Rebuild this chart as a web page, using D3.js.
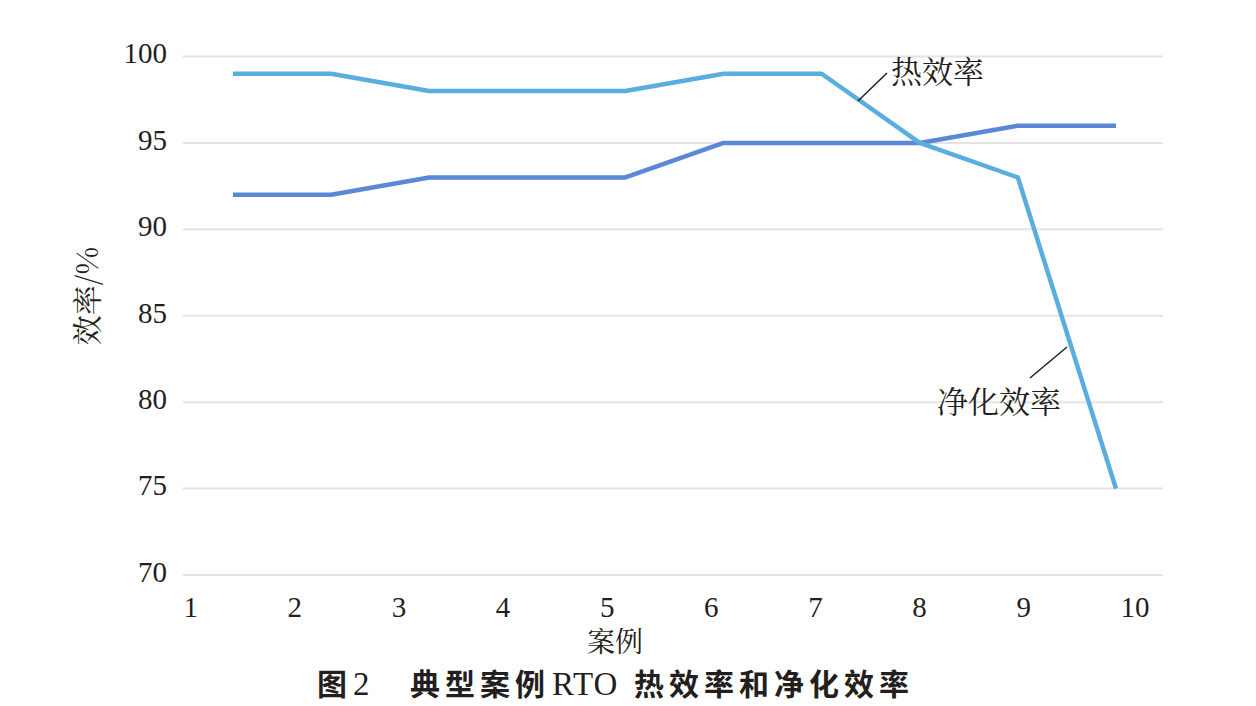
<!DOCTYPE html>
<html>

<head>
    <title>典型案例RTO热效率和净化效率</title>
    <meta http-equiv="Content-Type" content="text/html;charset=utf-8" />
    <script src="https://cdn.jsdelivr.net/npm/d3@7"></script>
    <style>
        body {
            margin: 0;
            background: #fff;
        }

        .num {
            font-family: "Liberation Serif", "DejaVu Serif", serif;
        }

        .cjk {
            font-family: "Noto Serif CJK SC", "Noto Sans CJK SC", sans-serif;
        }

        .hei {
            font-family: "Noto Sans CJK SC", sans-serif;
            font-weight: bold;
            letter-spacing: 5px;
        }
    </style>
</head>

<body>
    <svg width="1256" height="706" id="mainsvg"></svg>
    <script>
        // data
        const cases = [1, 2, 3, 4, 5, 6, 7, 8, 9, 10];
        const heatEff = [99, 99, 98, 98, 98, 99, 99, 95, 93, 75];      // 热效率 (light line)
        const cleanEff = [92, 92, 93, 93, 93, 95, 95, 95, 96, 96];     // 净化效率 (dark line)
        const yTicks = [70, 75, 80, 85, 90, 95, 100];
        const xTicks = [1, 2, 3, 4, 5, 6, 7, 8, 9, 10];

        const svg = d3.select('svg');
        const width = +svg.attr('width');
        const height = +svg.attr('height');
        const plot = { left: 183, right: 1163, top: 56.5, bottom: 575 };

        const yScale = d3.scaleLinear().domain([70, 100]).range([plot.bottom, plot.top]);
        // axis labels sit on their own scale, the points are spread over the categories
        const xLabelScale = d3.scaleLinear().domain([1, 10]).range([183, 1120]);
        const xScale = d3.scalePoint().domain(cases).range([233, 1116]);

        // grid lines
        svg.append('g').selectAll('line').data(yTicks).enter().append('line')
            .attr('x1', plot.left).attr('x2', plot.right)
            .attr('y1', d => yScale(d)).attr('y2', d => yScale(d))
            .attr('stroke', '#e4e4e4').attr('stroke-width', 2);

        // y axis labels
        const yAxis = d3.axisLeft(yScale).tickValues(yTicks).tickSize(0).tickPadding(0);
        const yAxisGroup = svg.append('g').attr('transform', 'translate(167, -3)').call(yAxis);
        yAxisGroup.select('.domain').remove();
        yAxisGroup.selectAll('.tick text').attr('class', 'num')
            .attr('font-size', 29).attr('fill', '#231f20');

        // x axis labels
        const xAxis = d3.axisBottom(xLabelScale).tickValues(xTicks).tickSize(0).tickPadding(0);
        const xAxisGroup = svg.append('g').attr('transform', 'translate(0, 596)').call(xAxis);
        xAxisGroup.select('.domain').remove();
        xAxisGroup.selectAll('.tick text').attr('class', 'num')
            .attr('text-anchor', 'start').attr('dy', '0.71em')
            .attr('font-size', 29).attr('fill', '#231f20');

        // axis titles
        svg.append('text').attr('class', 'cjk').text('案例')
            .attr('x', 615).attr('y', 652).attr('text-anchor', 'middle')
            .attr('font-size', 28).attr('fill', '#231f20');
        svg.append('text').attr('class', 'cjk').text('效率/%')
            .attr('transform', 'translate(98, 296) rotate(-90)')
            .attr('text-anchor', 'middle').attr('font-size', 30).attr('fill', '#231f20');

        // lines
        const line = d3.line()
            .x((d, i) => xScale(cases[i]))
            .y(d => yScale(d));

        svg.append('path').datum(cleanEff).attr('d', line)
            .attr('fill', 'none').attr('stroke', '#5b88d6').attr('stroke-width', 4.5)
            .attr('stroke-linejoin', 'round');
        svg.append('path').datum(heatEff).attr('d', line)
            .attr('fill', 'none').attr('stroke', '#5aaedd').attr('stroke-width', 4.5)
            .attr('stroke-linejoin', 'round');

        // callouts
        svg.append('line').attr('x1', 858).attr('y1', 101).attr('x2', 887).attr('y2', 73)
            .attr('stroke', '#231f20').attr('stroke-width', 1.5);
        svg.append('text').attr('class', 'cjk').text('热效率')
            .attr('x', 891).attr('y', 83).attr('font-size', 31).attr('fill', '#231f20');

        svg.append('line').attr('x1', 1030).attr('y1', 378).attr('x2', 1067).attr('y2', 347)
            .attr('stroke', '#231f20').attr('stroke-width', 1.5);
        svg.append('text').attr('class', 'cjk').text('净化效率')
            .attr('x', 937).attr('y', 413).attr('font-size', 31).attr('fill', '#231f20');

        // caption
        const caption = svg.append('text').attr('y', 695)
            .attr('font-size', 30).attr('fill', '#231f20');
        caption.append('tspan').attr('class', 'hei').attr('x', 317).text('图');
        caption.append('tspan').attr('class', 'num').attr('x', 353).attr('font-size', 33).text('2');
        caption.append('tspan').attr('class', 'hei').attr('x', 410).text('典型案例');
        caption.append('tspan').attr('class', 'num').attr('x', 552).attr('font-size', 33)
            .attr('letter-spacing', 1).text('RTO');
        caption.append('tspan').attr('class', 'hei').attr('x', 634).text('热效率和净化效率');
    </script>
</body>

</html>
